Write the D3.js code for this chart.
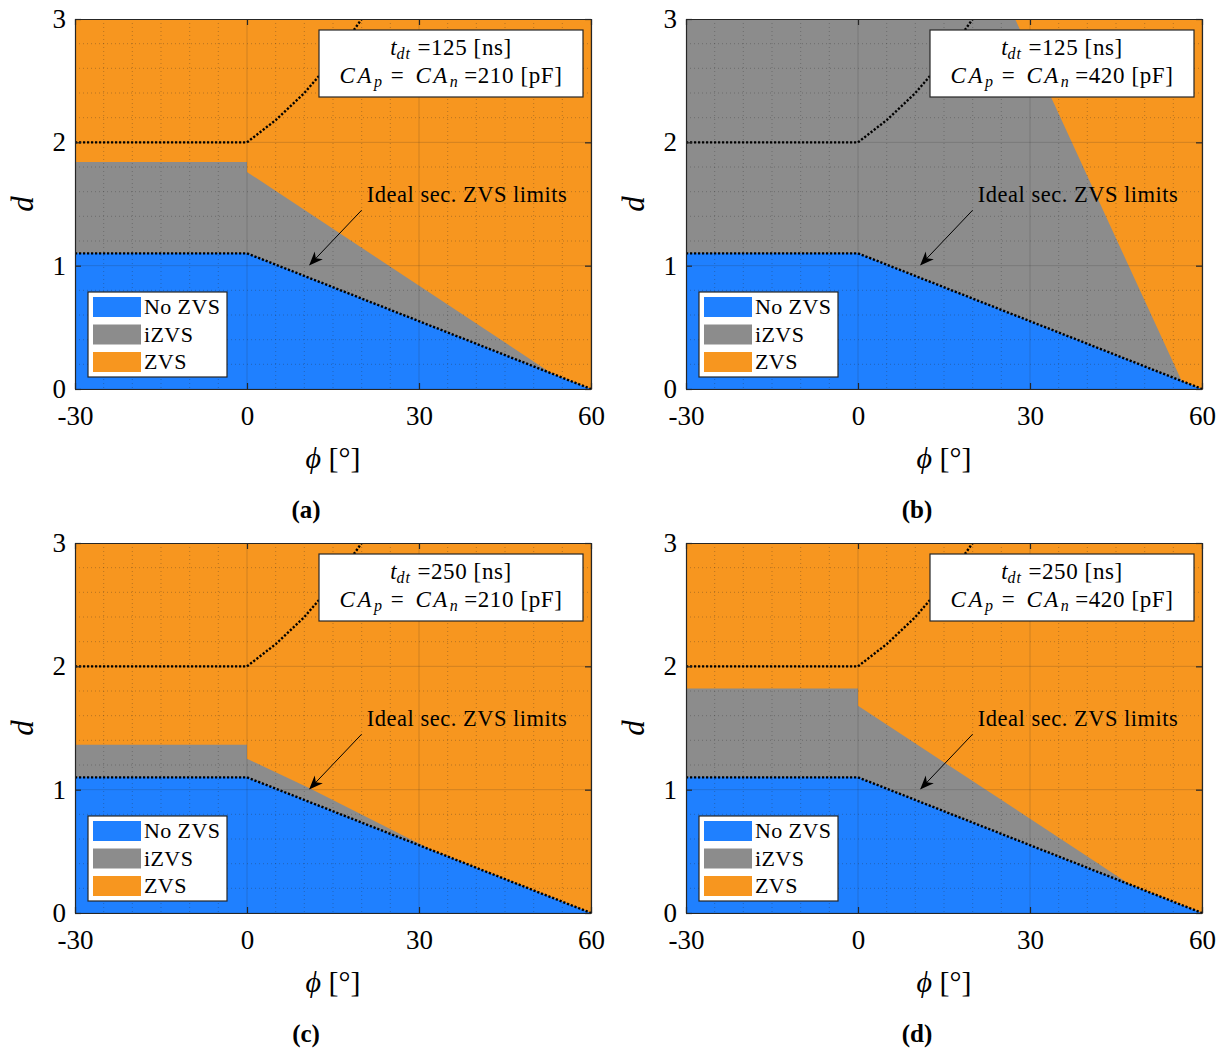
<!DOCTYPE html>
<html>
<head>
<meta charset="utf-8">
<script src="https://cdn.jsdelivr.net/npm/d3@7"></script>
<style>
  body { margin: 0; background: #fff; }
  svg { display: block; }
  text { font-family: "Liberation Serif", "DejaVu Serif", serif; fill: #000; }
</style>
</head>
<body>
<svg id="fig" width="1228" height="1052"></svg>
<script>
// axis ticks
const phiTicks = [-30, 0, 30, 60];
const dTicks = [0, 1, 2, 3];

// one entry per subplot
const captions = ["(a)", "(b)", "(c)", "(d)"];
const deadTimes = [125, 125, 250, 250];
const capValues = [210, 420, 210, 420];

// ideal secondary ZVS limits, [phi, d]
const idealLower = [[-30, 1.1], [0, 1.1], [60, 0]];
const idealUpper = [[-30, 2], [0, 2], [5, 2.18], [10, 2.4], [15, 2.67], [20, 3.0], [22, 3.16]];

// upper edge of the iZVS region in each subplot, [phi, d]
const izvsA = [[-30, 1.84], [0, 1.84], [0, 1.76], [54, 0.1], [60, 0]];
const izvsB = [[-30, 3], [27.4, 3], [56.6, 0.05], [60, 0]];
const izvsC = [[-30, 1.365], [0, 1.365], [0, 1.25], [11, 1.01], [28, 0.61], [33, 0.495], [60, 0]];
const izvsD = [[-30, 1.82], [0, 1.82], [0, 1.68], [47.5, 0.23], [60, 0]];
const izvsEdges = [izvsA, izvsB, izvsC, izvsD];

// legend
const regionNames = ["No ZVS", "iZVS", "ZVS"];
const regionColors = ["#1f80ff", "#8c8c8c", "#f7961f"];

const svg = d3.select("#fig");
const W = 516, H = 370;
const lefts = [75, 686];
const tops = [19, 543];
const axisColor = "#262626";

// arrow head for the annotation
svg.append("defs").append("marker")
  .attr("id", "arrow")
  .attr("viewBox", "0 0 10 10")
  .attr("refX", 9).attr("refY", 5)
  .attr("markerWidth", 14).attr("markerHeight", 14)
  .attr("markerUnits", "userSpaceOnUse")
  .attr("orient", "auto")
  .append("path")
  .attr("d", "M0,1 L10,5 L0,9 L3,5 Z")
  .attr("fill", "#000");

captions.forEach((cap, i) => {
  const left = lefts[i % 2];
  const top = tops[Math.floor(i / 2)];

  const x = d3.scaleLinear().domain([-30, 60]).range([0, W]);
  const y = d3.scaleLinear().domain([0, 3]).range([H, 0]);

  const g = svg.append("g").attr("transform", `translate(${left},${top})`);

  g.append("clipPath").attr("id", "clip" + i)
    .append("rect").attr("width", W).attr("height", H);
  const plot = g.append("g").attr("clip-path", `url(#clip${i})`);

  // ZVS everywhere, then iZVS and No ZVS stacked from d = 0
  plot.append("rect").attr("width", W).attr("height", H).attr("fill", regionColors[2]);

  const area = d3.area()
    .x(d => x(d[0]))
    .y0(y(0))
    .y1(d => y(d[1]));

  plot.append("path").datum(izvsEdges[i]).attr("d", area).attr("fill", regionColors[1]);
  plot.append("path").datum(idealLower).attr("d", area).attr("fill", regionColors[0]);

  // minor grid
  const grid = plot.append("g");
  grid.selectAll(".mx").data(x.ticks(18).filter(v => !phiTicks.includes(v)))
    .enter().append("line")
    .attr("x1", d => x(d)).attr("x2", d => x(d))
    .attr("y1", 0).attr("y2", H);
  grid.selectAll(".my").data(y.ticks(15).filter(v => !dTicks.includes(v)))
    .enter().append("line")
    .attr("x1", 0).attr("x2", W)
    .attr("y1", d => y(d)).attr("y2", d => y(d));
  grid.selectAll("line")
    .attr("stroke", axisColor)
    .attr("stroke-opacity", 0.3)
    .attr("stroke-width", 1)
    .attr("stroke-dasharray", "1 3");

  // major grid
  const major = plot.append("g");
  major.selectAll(".gx").data(phiTicks).enter().append("line")
    .attr("x1", d => x(d)).attr("x2", d => x(d))
    .attr("y1", 0).attr("y2", H);
  major.selectAll(".gy").data(dTicks).enter().append("line")
    .attr("x1", 0).attr("x2", W)
    .attr("y1", d => y(d)).attr("y2", d => y(d));
  major.selectAll("line")
    .attr("stroke", axisColor)
    .attr("stroke-opacity", 0.18)
    .attr("stroke-width", 1);

  // ideal limits, dotted
  const line = d3.line().x(d => x(d[0])).y(d => y(d[1]));
  [idealLower, idealUpper].forEach(l => {
    plot.append("path").datum(l)
      .attr("d", line)
      .attr("fill", "none")
      .attr("stroke", "#000")
      .attr("stroke-width", 2.4)
      .attr("stroke-dasharray", "2.2 1.8");
  });

  // axes, ticks pointing inward on all four sides
  const xb = g.append("g").attr("transform", `translate(0,${H})`)
    .call(d3.axisBottom(x).tickValues(phiTicks).tickFormat(d => String(d))
      .tickSizeInner(-6).tickSizeOuter(0).tickPadding(17));
  const yl = g.append("g")
    .call(d3.axisLeft(y).tickValues(dTicks).tickFormat(d => String(d))
      .tickSizeInner(-6).tickSizeOuter(0).tickPadding(9));
  const xt = g.append("g")
    .call(d3.axisTop(x).tickValues(phiTicks).tickSizeInner(-6).tickSizeOuter(0).tickFormat(""));
  const yr = g.append("g").attr("transform", `translate(${W},0)`)
    .call(d3.axisRight(y).tickValues(dTicks).tickSizeInner(-6).tickSizeOuter(0).tickFormat(""));
  [xb, yl, xt, yr].forEach(a => {
    a.selectAll("path, line").attr("stroke", axisColor).attr("stroke-width", 1.2);
    a.selectAll("text")
      .style("font-family", '"Liberation Serif", "DejaVu Serif", serif')
      .style("font-size", "27px")
      .attr("fill", "#000");
  });

  // annotation
  const ann = g.append("g");
  ann.append("text")
    .attr("x", x(20.9)).attr("y", y(1.515))
    .style("font-size", "22.5px")
    .style("letter-spacing", "0.5px")
    .text("Ideal sec.  ZVS limits");
  ann.append("line")
    .attr("x1", x(20)).attr("y1", y(1.45))
    .attr("x2", x(11)).attr("y2", y(1.01))
    .attr("stroke", "#000").attr("stroke-width", 1)
    .attr("marker-end", "url(#arrow)");

  // parameter box
  const box = g.append("g").attr("transform", "translate(244,11)");
  box.append("rect").attr("width", 264).attr("height", 67)
    .attr("fill", "#fff").attr("stroke", axisColor).attr("stroke-width", 1.2);
  const l1 = box.append("text").attr("x", 132).attr("y", 25)
    .attr("text-anchor", "middle").style("font-size", "23px");
  l1.append("tspan").attr("font-style", "italic").text("t");
  l1.append("tspan").attr("font-style", "italic").attr("dy", 4).style("font-size", "16px")
    .style("letter-spacing", "1px").text("dt");
  l1.append("tspan").attr("dy", -4).style("letter-spacing", "0.6px")
    .text(" =" + deadTimes[i] + " [ns]");
  const l2 = box.append("text").attr("x", 132).attr("y", 53)
    .attr("text-anchor", "middle").style("font-size", "23px");
  l2.append("tspan").attr("font-style", "italic").style("letter-spacing", "2.5px").text("CA");
  l2.append("tspan").attr("font-style", "italic").attr("dy", 4).style("font-size", "16px").text("p");
  l2.append("tspan").attr("dy", -4).style("letter-spacing", "3px").text(" = ");
  l2.append("tspan").attr("font-style", "italic").style("letter-spacing", "2.5px").text("CA");
  l2.append("tspan").attr("font-style", "italic").attr("dy", 4).style("font-size", "16px").text("n");
  l2.append("tspan").attr("dy", -4).style("letter-spacing", "0.6px")
    .text(" =" + capValues[i] + " [pF]");

  // legend
  const leg = g.append("g").attr("transform", "translate(13,273)");
  leg.append("rect").attr("width", 139).attr("height", 85)
    .attr("fill", "#fff").attr("stroke", axisColor).attr("stroke-width", 1.2);
  const rows = leg.selectAll(".row").data(regionNames).enter().append("g")
    .attr("transform", (d, k) => `translate(0,${5 + k * 27.5})`);
  rows.append("rect").attr("x", 5).attr("width", 48).attr("height", 20)
    .attr("fill", (d, k) => regionColors[k]);
  rows.append("text").attr("x", 56).attr("y", 17)
    .style("font-size", "22px")
    .style("letter-spacing", "0.4px")
    .text(d => d);

  // axis labels
  g.append("text")
    .attr("transform", `translate(-42,${H / 2}) rotate(-90)`)
    .attr("text-anchor", "middle")
    .attr("font-style", "italic")
    .style("font-size", "31px")
    .text("d");
  const xl = g.append("text")
    .attr("x", W / 2).attr("y", H + 79)
    .attr("text-anchor", "middle")
    .style("font-size", "30px");
  xl.append("tspan").attr("font-style", "italic").text("ϕ");
  xl.append("tspan").text(" [°]");

  // sub-caption
  svg.append("text")
    .attr("x", i % 2 === 0 ? 306 : 917)
    .attr("y", top + 499)
    .attr("text-anchor", "middle")
    .attr("font-weight", "bold")
    .style("font-size", "25px")
    .text(cap);
});
</script>
</body>
</html>
